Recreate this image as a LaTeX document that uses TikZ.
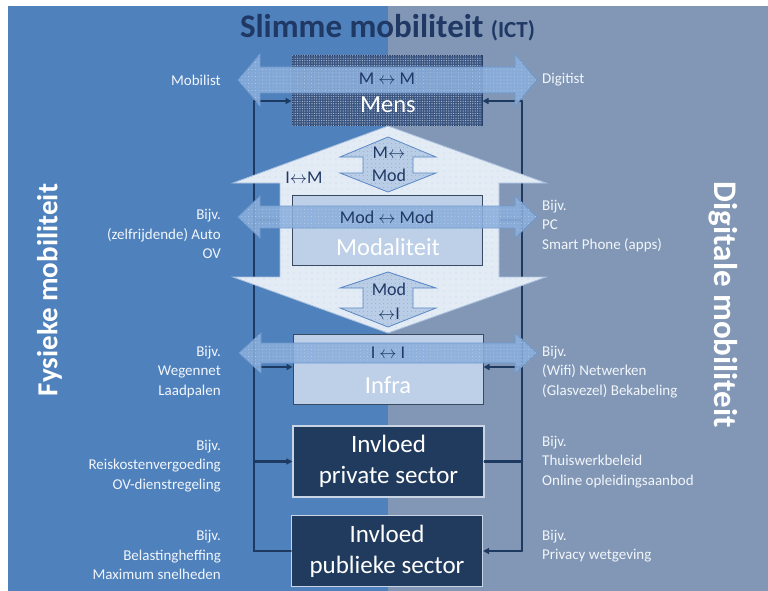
\documentclass[tikz,border=0pt]{standalone}
\usepackage{fontspec}
\setmainfont{Carlito}
\usetikzlibrary{arrows.meta,patterns.meta}

\definecolor{bgL}{HTML}{4F81BD}
\definecolor{bgR}{HTML}{8197B5}
\definecolor{navy}{HTML}{1F3864}
\definecolor{linec}{HTML}{1E3A60}
\definecolor{mensfill}{HTML}{3A5580}
\definecolor{mensdot}{HTML}{B4C4DA}
\definecolor{lightfill}{HTML}{BDD0E8}
\definecolor{boxedge}{HTML}{3A4A60}
\definecolor{darkfill}{HTML}{213B5E}
\definecolor{darkedge}{HTML}{C9D5E5}
\definecolor{hexfill}{HTML}{E3EBF5}
\definecolor{hexedge}{HTML}{A9C1DF}
\definecolor{hexdot}{HTML}{9AB2D2}
\definecolor{arrfill}{HTML}{8AAEDC}
\definecolor{arredge}{HTML}{6F98CC}
\definecolor{smallfill}{HTML}{B9CDE6}
\definecolor{smalledge}{HTML}{5A88C4}
\definecolor{lbltxt}{HTML}{F2F6FB}

\begin{document}
\begin{tikzpicture}[x=1pt,y=-1pt,
  lbl/.style={text=lbltxt, font=\fontsize{15}{19.5}\selectfont, inner sep=0pt},
  lbll/.style={lbl, align=right, anchor=east},
  lblr/.style={lbl, align=left, anchor=west},
  boxtxt/.style={text=white, font=\fontsize{24.5}{30}\selectfont, inner sep=0pt},
  arrtxt/.style={text=navy, font=\fontsize{18}{22}\selectfont, inner sep=0pt, align=center},
  lightbox/.style={draw=boxedge, line width=1pt, fill=lightfill, minimum width=190pt, minimum height=70pt, inner sep=0pt},
  darkbox/.style={draw=darkedge, line width=1.2pt, fill=darkfill, text=white,
     font=\fontsize{25}{31}\selectfont, align=center, minimum width=191pt, minimum height=71pt, inner sep=0pt},
  mensbox/.style={draw=navy, line width=1pt, fill=mensfill, minimum width=190pt, minimum height=70pt, inner sep=0pt,
     postaction={pattern={Dots[distance=2.4pt,radius=0.6pt]}, pattern color=mensdot}},
  harrow/.style={draw=arredge, line width=0.8pt, fill=arrfill, fill opacity=0.88,
     postaction={pattern={Dots[distance=3.5pt,radius=0.4pt]}, pattern color=white!60!arrfill}},
  varrow/.style={draw=smalledge, line width=0.8pt, fill=smallfill,
     postaction={pattern={Dots[distance=4pt,radius=0.4pt]}, pattern color=arredge}},
  hexa/.style={draw=hexedge, line width=0.8pt, fill=hexfill,
     postaction={pattern={Dots[distance=6pt,radius=0.45pt]}, pattern color=hexdot}},
  conn/.style={draw=linec, line width=2.2pt},
  tip/.style={-{Triangle[length=6pt,width=6pt]}}
]
\useasboundingbox (0,0) rectangle (768,591);

% two halves of the background
\fill[bgL] (8,6) rectangle (388,591);
\fill[bgR] (388,6) rectangle (768,591);

% title
\node[text=navy, font=\fontsize{33}{36}\bfseries\selectfont] (title) at (387.5,28)
  {Slimme mobiliteit {\fontsize{23}{26}\selectfont (ICT)}};

% side headings
\node[text=white, rotate=90, font=\fontsize{29}{32}\bfseries\selectfont] (fys) at (49.5,290) {Fysieke mobiliteit};
\node[text=white, rotate=-90, font=\fontsize{33}{36}\bfseries\selectfont] (dig) at (723.5,305) {Digitale mobiliteit};

% boxes
\node[mensbox] (mens) at (387,91) {};
\node[lightbox] (infra) at (388,369) {};
\node[darkbox] (priv) at (388.5,461.5) {Invloed\\private sector};
\node[darkbox] (publ) at (387,551) {Invloed\\publieke sector};

% connector corners
\coordinate (lTop) at (254,101);
\coordinate (lMod) at (254,220);
\coordinate (lInf) at (254,367);
\coordinate (lPriv) at (254,461.5);
\coordinate (lBot) at (254,551);
\coordinate (rTop) at (522,101);
\coordinate (rMod) at (522,220);
\coordinate (rInf) at (522,367);
\coordinate (rPriv) at (522,461.5);
\coordinate (rBot) at (522,551);

% left trunk: public sector feeds the other layers
\draw[conn, line cap=round] (publ.west) -- (lBot) -- (lTop);
\draw[conn, tip] (lTop) -- (mens.west |- lTop);
\draw[conn] (lMod) -- (290,220);
\draw[conn, tip] (lInf) -- (infra.west |- lInf);
\draw[conn, tip] (lPriv) -- (priv.west);
% right trunk: private sector feeds the other layers
\draw[conn, line cap=round] (priv.east) -- (rPriv);
\draw[conn, line cap=round] (rBot) -- (rTop);
\draw[conn, tip] (rTop) -- (mens.east |- rTop);
\draw[conn] (rMod) -- (485,220);
\draw[conn, tip] (rInf) -- (infra.east |- rInf);
\draw[conn, tip] (rBot) -- (publ.east);

% large double arrow between people, modalities and infrastructure
\path[hexa] (388,126) -- (546,183) -- (499,183) -- (499,277) -- (546,277) -- (388,333)
  -- (233,277) -- (280,277) -- (280,183) -- (233,183) -- cycle;
\node[lightbox] (modal) at (387.5,230) {};

% small vertical double arrows
\path[varrow] (388,137) -- (436,157) -- (413,157) -- (413,173) -- (436,173) -- (388,192)
  -- (340,173) -- (363,173) -- (363,157) -- (340,157) -- cycle;
\path[varrow] (388,272) -- (436,288) -- (413,288) -- (413,308) -- (436,308) -- (388,327)
  -- (340,308) -- (363,308) -- (363,288) -- (340,288) -- cycle;

% horizontal double arrows
\path[harrow] (238,80) -- (260,54) -- (260,67) -- (515,67) -- (515,54) -- (537,80)
  -- (515,106) -- (515,93) -- (260,93) -- (260,106) -- cycle;
\path[harrow] (238,217) -- (260,196) -- (260,206) -- (515,206) -- (515,196) -- (537,217)
  -- (515,238) -- (515,228) -- (260,228) -- (260,238) -- cycle;
\path[harrow] (239,353) -- (261,333) -- (261,343) -- (515,343) -- (515,333) -- (537,353)
  -- (515,373) -- (515,363) -- (261,363) -- (261,373) -- cycle;

% box titles
\node[boxtxt] (mensT) at (388,105) {Mens};
\node[boxtxt] (modT) at (388,247) {Modaliteit};
\node[boxtxt] (infT) at (388,385) {Infra};

% arrow labels
\node[arrtxt] (mm) at (387,79) {M $\leftrightarrow$ M};
\node[arrtxt] (modmod) at (387,217) {Mod $\leftrightarrow$ Mod};
\node[arrtxt] (ii) at (388,353) {I $\leftrightarrow$ I};
\node[arrtxt] (im) at (304,178) {I$\leftrightarrow$M};
\node[arrtxt, font=\fontsize{18}{23}\selectfont] (mmod) at (389,164) {M$\leftrightarrow$\\Mod};
\node[arrtxt, font=\fontsize{18}{24}\selectfont] (modi) at (389,301) {Mod\\$\leftrightarrow$I};

% examples, physical side
\node[lbll] (l1) at (221,80) {Mobilist};
\node[lbll] (l2) at (221,234) {Bijv.\\(zelfrijdende) Auto\\OV};
\node[lbll] (l3) at (221,372) {Bijv.\\Wegennet\\Laadpalen};
\node[lbll] (l4) at (221,466) {Bijv.\\Reiskostenvergoeding\\OV-dienstregeling};
\node[lbll] (l5) at (221,555) {Bijv.\\Belastingheffing\\Maximum snelheden};

% examples, digital side
\node[lblr] (r1) at (542,80) {Digitist};
\node[lblr] (r2) at (542,226) {Bijv.\\PC\\Smart Phone (apps)};
\node[lblr] (r3) at (542,372) {Bijv.\\(Wifi) Netwerken\\(Glasvezel) Bekabeling};
\node[lblr] (r4) at (542,462) {Bijv.\\Thuiswerkbeleid\\Online opleidingsaanbod};
\node[lblr] (r5) at (542,546) {Bijv.\\Privacy wetgeving};
\end{tikzpicture}
\end{document}
